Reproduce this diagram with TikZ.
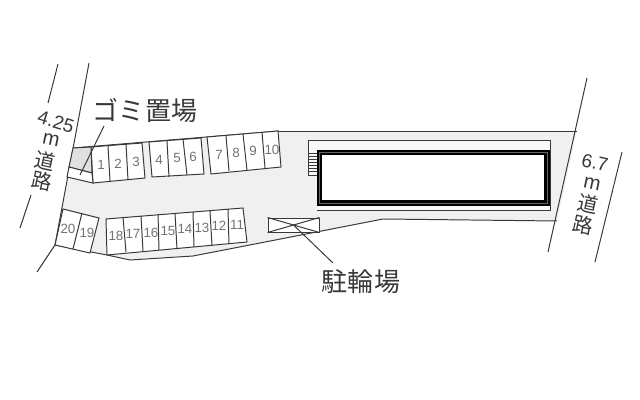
\documentclass[tikz,border=0pt]{standalone}
\usepackage{fontspec}
\setmainfont{Liberation Sans}
\newfontfamily\cjk{Noto Sans CJK JP}
\usetikzlibrary{positioning}
\definecolor{lotgray}{gray}{0.94}
\definecolor{inkgray}{gray}{0.22}
\tikzstyle{edge} = [draw=inkgray, line width=0.7pt]
\tikzstyle{slot} = [edge, fill=white]
\tikzstyle{wall} = [draw=black, line width=3.6pt]
\tikzset{
	slotnum/.style={text=black!55, font=\fontsize{9.5}{10}\selectfont, inner sep=0pt},
	bigcap/.style={text=inkgray, font=\cjk\fontsize{18.5}{20}\selectfont, inner sep=0pt},
	roadcap/.style={text=inkgray, font=\cjk\fontsize{14.5}{16}\selectfont, inner sep=0pt, rotate=-12},
}

\begin{document}
\begin{tikzpicture}[x=0.025cm, y=-0.025cm]
\useasboundingbox (0,0) rectangle (640,400);

%lot
\fill [lotgray] (73,148) -- (279,131) -- (577,131) -- (557,221) -- (383,219)
	-- (260,243) -- (193,256) -- (130,260) -- (107,255) -- (55,245) -- cycle;
\path [edge] (279,131) -- (577,131);
\path [edge] (557,221) -- (383,219) -- (260,243) -- (193,256) -- (130,260) -- (107,255) -- (55,245);
\path [edge] (73,148) -- (279,131);

%roads
\path [edge] (89,63) -- (55,245) -- (37,272);
\path [edge] (58,64) -- (48,103);
\path [edge] (31,195) -- (20,228);
\path [edge] (587,78) -- (548,252);
\path [edge] (622,152) -- (595,262);

%parking, upper row
\path [slot] (91,147) -- (142,143) -- (145,178) -- (93,183) -- cycle;
\path [slot] (149,142) -- (201,138) -- (204,174) -- (152,177) -- cycle;
\path [slot] (207,137) -- (278,131) -- (281,167) -- (211,174) -- cycle;
\foreach \xa/\ya/\xb/\yb in {108/146/110/181, 126/144/128/180, 167/141/169/177,
	183/139/187/175, 226/136/229/171, 243/134/247/170, 262/132/265/168}
	\path [edge] (\xa,\ya) -- (\xb,\yb);

%parking, lower row
\path [slot] (63,209) -- (99,218) -- (90,253) -- (55,245) -- cycle;
\path [edge] (82,213) -- (73,249);
\path [slot] (106,219) -- (243,208) -- (247,242) -- (107,255) -- cycle;
\foreach \xa/\ya/\xb/\yb in {123/217/126/252, 141/216/143/251, 158/214/159/250,
	175/213/177/249, 193/212/194/247, 210/211/212/246, 228/209/229/244}
	\path [edge] (\xa,\ya) -- (\xb,\yb);

%garbage place
\path [edge, fill=black!12] (73,148) -- (91,147) -- (92,173) -- (69,167) -- cycle;
\path [slot] (69,167) -- (92,173) -- (93,183) -- (67,177) -- cycle;

%slot numbers
\foreach \x/\y/\n in {101/165/1, 118/164/2, 136/162/3, 159/160/4, 177/158/5,
	193/157/6, 219/155/7, 236/153/8, 253/151/9, 272/150/10,
	237/225/11, 219/226/12, 202/228/13, 185/229/14, 168/231/15,
	151/233/16, 133/234/17, 116/236/18, 87/233/19, 68/229/20}
	\node [slotnum] (n\n) at (\x,\y) {\n};

%building
\fill [white!60!lotgray] (308,140) rectangle (550,210);
\fill [lotgray] (308,175) rectangle (317,210);
\path [edge] (317,210) -- (550,210) -- (550,140) -- (308,140) -- (308,175) -- (317,175);
\foreach \y in {153, 156, 159, 162, 165, 168, 171}
	\path [edge] (308,\y) -- (317,\y);
\path [wall, fill=white] (319.5,152.5) rectangle (547,203);
\path [draw=black!60, line width=0.4pt] (319.5,152.5) rectangle (547,203);

%bicycle parking
\node [slot, minimum width=1.275cm, minimum height=0.35cm, inner sep=0pt] (rack) at (293.5,225) {};
\path [edge] (rack.north west) -- (rack.south east);
\path [edge] (rack.south west) -- (rack.north east);

%labels
\node [bigcap] (gomi) at (145,110) {ゴミ置場};
\node [bigcap] (bike) at (361,282) {駐輪場};
\coordinate (gomi end) at (104,126);
\coordinate (gomi box) at (80,175);
\coordinate (bike end) at (333,263);
\path [edge] (gomi end) -- (gomi box);
\path [edge] (rack.center) -- (bike end);

\node [roadcap, rotate=-5] (wa) at (56,122) {\fontspec{Liberation Sans}\fontsize{13.5}{14}\selectfont 4.25};
\node [roadcap] (wb) at (51,140) {\fontspec{Liberation Sans}m};
\node [roadcap] (wc) at (45,161) {道};
\node [roadcap] (wd) at (42,181) {路};
\node [roadcap] (ea) at (595,163) {\fontspec{Liberation Sans}\fontsize{13.5}{14}\selectfont 6.7};
\node [roadcap] (eb) at (592,184) {\fontspec{Liberation Sans}m};
\node [roadcap] (ec) at (588,204) {道};
\node [roadcap] (ed) at (583,225) {路};

\end{tikzpicture}
\end{document}
